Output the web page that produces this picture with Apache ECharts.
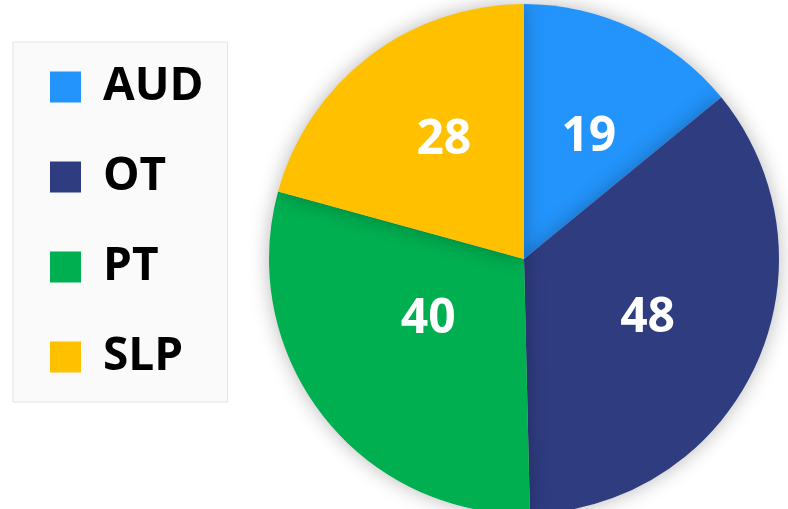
<!DOCTYPE html>
<html>
<head>
<meta charset="utf-8">
<script src="https://cdn.jsdelivr.net/npm/echarts@6/dist/echarts.min.js"></script>
<style>
	html, body { margin: 0; padding: 0; background: #fff; }
	#pieChart { width: 788px; height: 509px; }
</style>
</head>
<body>
<div id="pieChart"></div>
<script>
// 数据
var categories = ['AUD', 'OT', 'PT', 'SLP'];
var values = [19, 48, 40, 28];
var colors = ['#2394fc', '#2f3c80', '#00af50', '#ffc000'];
// 标签微调（像素）
var labelNudge = [[9, -4], [5, 5], [7, -20], [-1, -15]];

var pieChart = echarts.init(document.getElementById('pieChart'));
var seriesData = categories.map(function(name, i) {
	return { name: name, value: values[i], itemStyle: { color: colors[i] } };
});
var option = {
	animation: false,
	legend: {
		orient: 'vertical',
		left: 13,
		top: 42,
		data: categories,
		icon: 'rect',
		itemWidth: 31,
		itemHeight: 31,
		itemGap: 44,
		padding: [22, 24, 22, 37],
		backgroundColor: '#fafafa',
		borderColor: '#dde6e2',
		borderWidth: 1,
		textStyle: {
			fontFamily: 'Open Sans',
			fontWeight: 'bold',
			fontSize: 46,
			color: '#000',
			padding: [0, 0, 0, 17]
		}
	},
	series: [{
		type: 'pie',
		center: [524, 259],
		radius: 255,
		startAngle: 90,
		clockwise: true,
		data: seriesData,
		itemStyle: {
			borderWidth: 0,
			shadowBlur: 20,
			shadowColor: 'rgba(0,0,0,0.28)'
		},
		label: {
			show: true,
			position: 'inside',
			formatter: '{c}',
			color: '#fff',
			fontFamily: 'Open Sans',
			fontWeight: 'bold',
			fontSize: 48
		},
		labelLayout: function(params) {
			var n = labelNudge[params.dataIndex];
			return { dx: n[0], dy: n[1] };
		},
		labelLine: { show: false },
		emphasis: { disabled: true }
	}]
};
pieChart.setOption(option, true);
</script>
</body>
</html>
